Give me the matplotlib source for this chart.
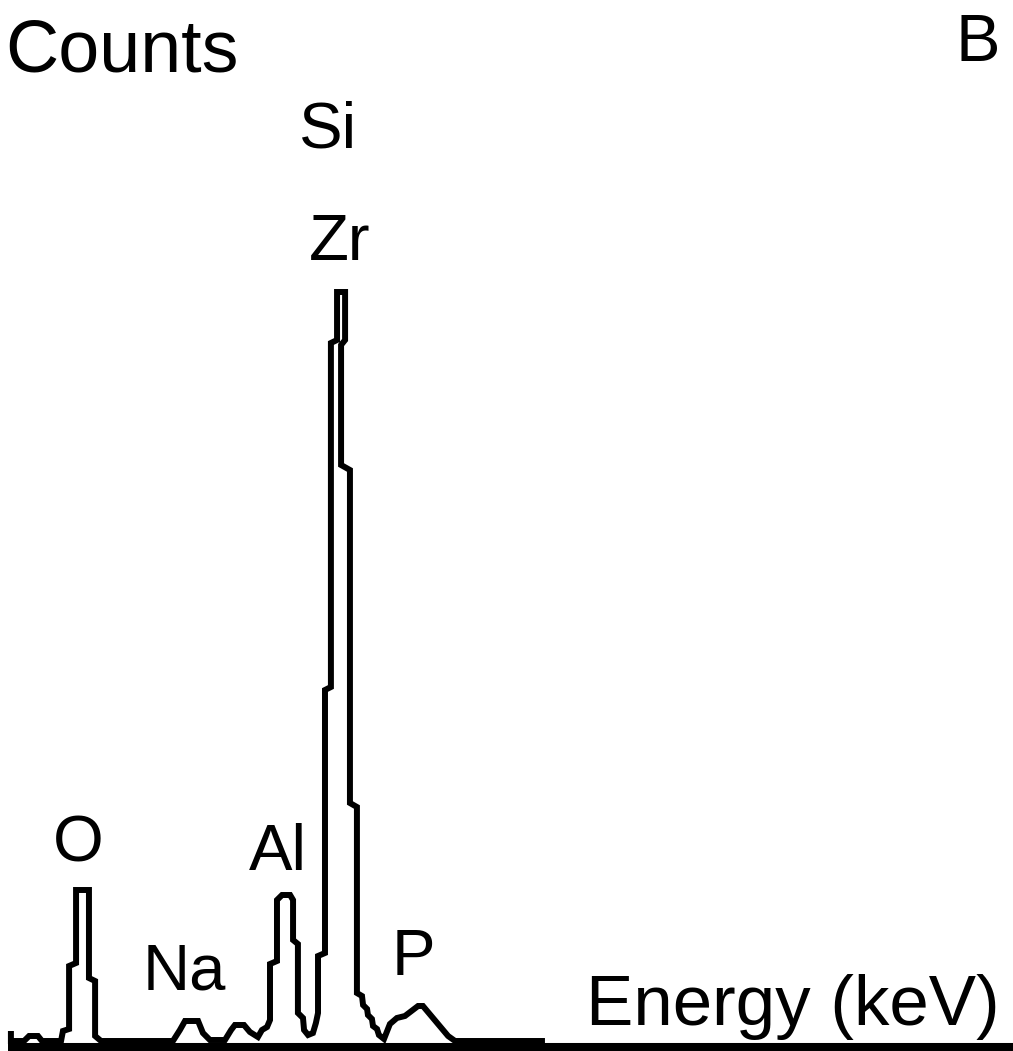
import numpy as np
import matplotlib
matplotlib.use("Agg")
import matplotlib.pyplot as plt

# EDS spectrum trace, vertices of the stepped outline (energy in keV, counts)
energy_kev = [0.184, 0.184, 0.246, 0.270, 0.312, 0.331, 0.421, 0.430, 0.459, 0.459,
              0.492, 0.492, 0.553, 0.553, 0.582, 0.582, 0.610, 0.950, 0.983, 1.007,
              1.069, 1.092, 1.125, 1.196, 1.225, 1.243, 1.286, 1.314, 1.352, 1.371,
              1.395, 1.409, 1.409, 1.442, 1.442, 1.466, 1.504, 1.518, 1.518, 1.541,
              1.541, 1.565, 1.570, 1.589, 1.612, 1.626, 1.636, 1.636, 1.669, 1.669,
              1.697, 1.697, 1.726, 1.726, 1.764, 1.764, 1.745, 1.745, 1.787, 1.787,
              1.820, 1.820, 1.844, 1.849, 1.868, 1.872, 1.891, 1.896, 1.915, 1.924,
              1.948, 1.976, 2.009, 2.047, 2.109, 2.132, 2.251, 2.284, 2.709]
counts = [30, 0, 0, 15, 15, 0, 0, 30, 36, 225,
          234, 453, 453, 189, 180, 15, 0, 0, 33, 60,
          60, 24, 3, 3, 33, 48, 48, 27, 12, 33,
          42, 63, 231, 240, 423, 438, 438, 423, 303, 291,
          84, 69, 33, 18, 24, 54, 84, 255, 264, 1053,
          1062, 2094, 2103, 2247, 2247, 2103, 2088, 1728, 1713, 714,
          702, 144, 135, 108, 96, 78, 66, 45, 36, 18,
          6, 51, 69, 75, 105, 105, 15, 0, 0]

# element labels: text, energy, counts at the text baseline
elements = ["Si", "Zr", "O", "Na", "Al", "P"]
label_kev = [1.683, 1.740, 0.501, 1.002, 1.447, 2.085]
label_counts = [2682, 2343, 537, 153, 513, 198]

font = "Liberation Sans"

fig = plt.figure(figsize=(10.13, 10.51), dpi=100)
ax = fig.add_axes([0, 0, 1, 1])
ax.set_xlim(0.1324, 4.922)
ax.set_ylim(-30, 3123)
ax.axis("off")

# energy axis, thick rule along the bottom
ax.plot([0.170, 5.0], [-18, -18], color="black", lw=5.8,
        solid_capstyle="butt", zorder=2)

ax.plot(energy_kev, counts, color="black", lw=4.3,
        solid_joinstyle="miter", solid_capstyle="butt", zorder=3)

for name, ex, cy in zip(elements, label_kev, label_counts):
    ax.text(ex, cy, name, ha="center", va="baseline",
            fontsize=47, family=font, color="black")

fig.text(5 / 1013, 1 - 71 / 1051, "Counts", ha="left", va="baseline",
         fontsize=53, family=font)
fig.text(1000 / 1013, 1 - 61 / 1051, "B", ha="right", va="baseline",
         fontsize=48, family=font)
fig.text(1000 / 1013, 1 - 1025 / 1051, "Energy (keV)", ha="right",
         va="baseline", fontsize=51, family=font)

fig.savefig("out.png", dpi=100, facecolor="white")
